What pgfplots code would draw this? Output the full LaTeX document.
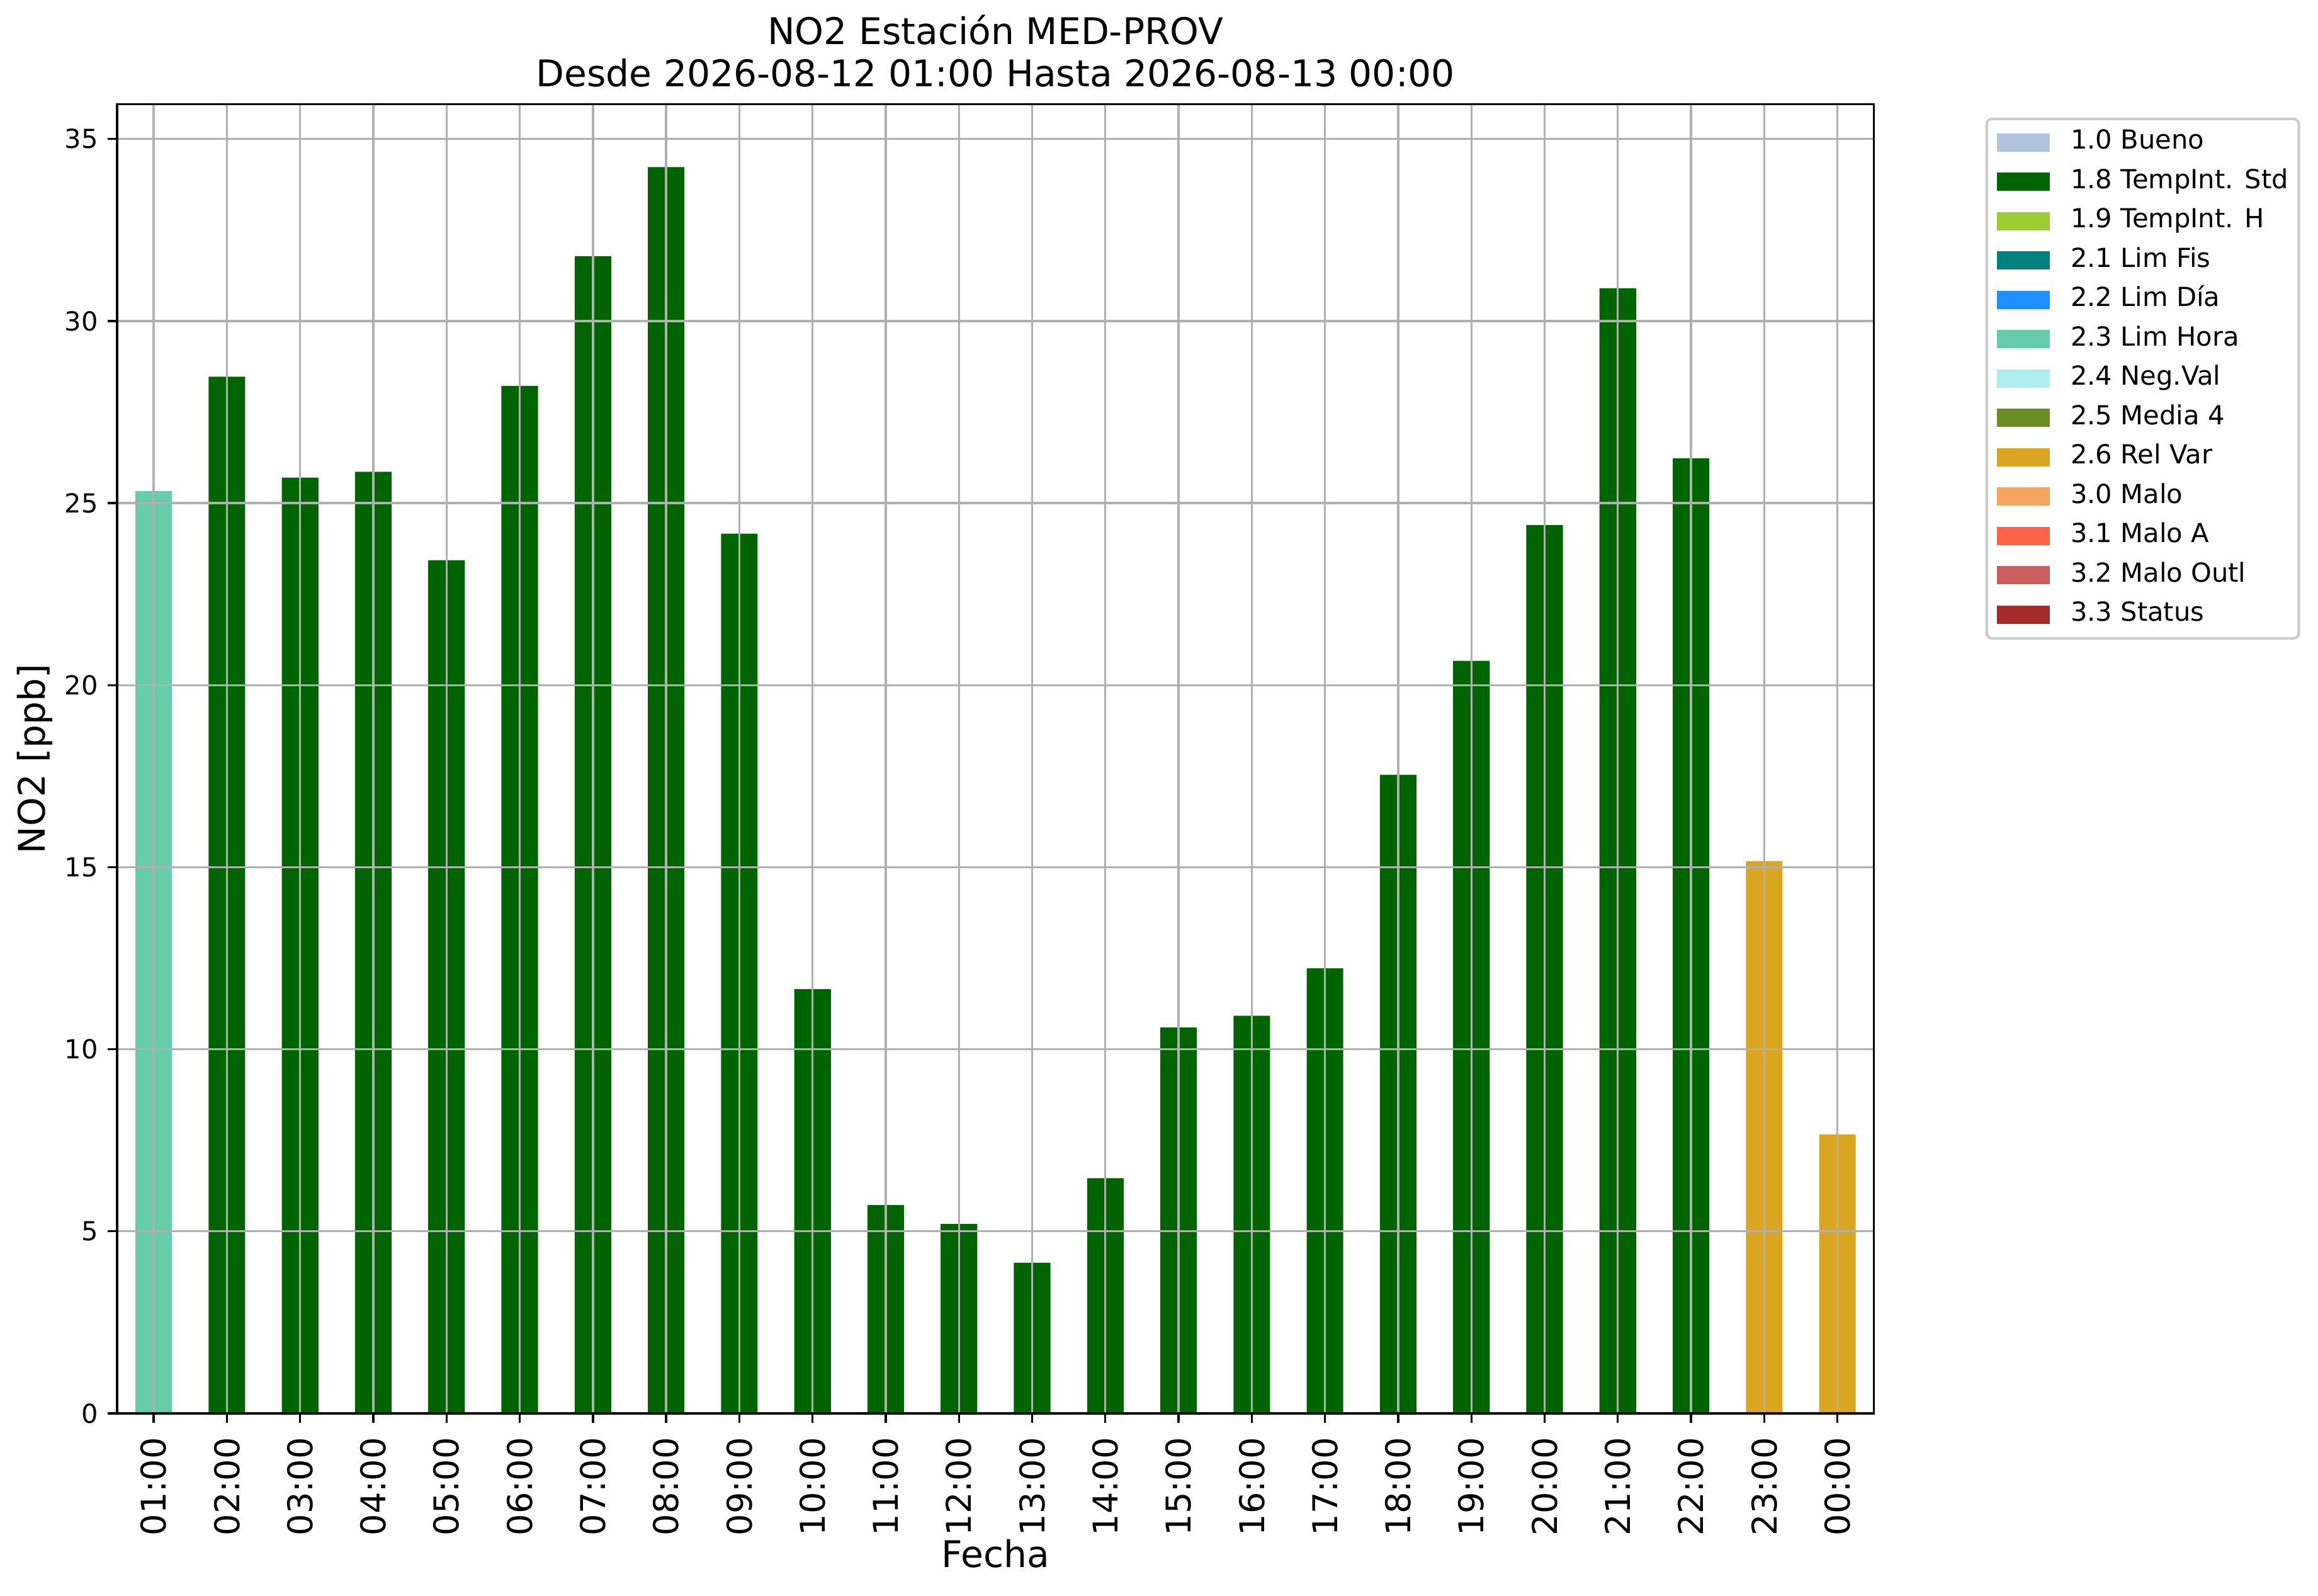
\documentclass[border=0pt]{standalone}
\usepackage{pgfplots}
\pgfplotsset{compat=1.18}
\usepackage{fontspec}
\setmainfont{DejaVu Sans}
\definecolor{cBueno}{HTML}{B0C4DE}
\definecolor{cStd}{HTML}{006400}
\definecolor{cH}{HTML}{9ACD32}
\definecolor{cFis}{HTML}{008080}
\definecolor{cDia}{HTML}{1E90FF}
\definecolor{cHora}{HTML}{66CDAA}
\definecolor{cNeg}{HTML}{AFEEEE}
\definecolor{cMedia}{HTML}{6B8E23}
\definecolor{cRel}{HTML}{DAA520}
\definecolor{cMalo}{HTML}{F4A460}
\definecolor{cMaloA}{HTML}{FF6347}
\definecolor{cOutl}{HTML}{CD5C5C}
\definecolor{cStatus}{HTML}{A52A2A}
\definecolor{gridgray}{HTML}{B0B0B0}
\begin{document}
\begin{tikzpicture}
\useasboundingbox (0,0) rectangle (883.7pt,608.2pt);
\begin{axis}[
  at={(44.64pt,69.4pt)}, anchor=south west,
  scale only axis, width=669.8pt, height=499pt,
  xmin=-0.5, xmax=23.5, ymin=0, ymax=35.95,
  xtick={0,...,23},
  xticklabels={01:00,02:00,03:00,04:00,05:00,06:00,07:00,08:00,09:00,10:00,11:00,12:00,13:00,14:00,15:00,16:00,17:00,18:00,19:00,20:00,21:00,22:00,23:00,00:00},
  ytick={0,5,...,35},
  xtick pos=left, ytick pos=left,
  tick align=outside, major tick length=3.5pt,
  every tick/.style={black, line width=0.8pt},
  axis line style={line width=0.8pt},
  grid=major, major grid style={gridgray, line width=0.8pt},
  axis on top,
  /pgf/number format/assume math mode=true,
  x tick label style={rotate=90, anchor=east, font=\fontsize{13}{15}\selectfont, inner sep=0pt, xshift=-5.5pt},
  y tick label style={font=\fontsize{10}{12}\selectfont, inner sep=0pt, xshift=-3.5pt},
  xlabel={Fecha}, xlabel style={font=\fontsize{14}{16}\selectfont, inner sep=0pt, yshift=-1.2pt},
  ylabel={NO2 [ppb]}, ylabel style={font=\fontsize{14}{16}\selectfont, inner sep=0pt, yshift=4.5pt},
  title={NO2 Estación MED-PROV\\Desde 2026-08-12 01:00 Hasta 2026-08-13 00:00},
  title style={at={(0.5,1)}, anchor=south, yshift=0.4pt, inner sep=0pt, align=center, font=\fontsize{14}{16}\selectfont},
  legend cell align=left,
  legend style={at={(1.0634,0.9899)}, anchor=north west, draw=black!20, line width=1pt, rounded corners=2pt, fill=white,
    font=\fontsize{10}{12}\selectfont, inner xsep=4pt, inner ysep=4pt, row sep=5pt,
    nodes={inner sep=0pt, text height=7.5pt, text depth=2.5pt},
    /tikz/every odd column/.style={column sep=8pt}},
  legend image code/.code={\fill[#1, draw=none, sharp corners] (0pt,-3.5pt) rectangle (20pt,3.5pt);},
]
\addplot[ybar, bar width=0.5, bar shift=0, fill=cHora, draw=none, forget plot] coordinates {(0,25.33)};
\addplot[ybar, bar width=0.5, bar shift=0, fill=cStd, draw=none, forget plot] coordinates {
(1,28.47) (2,25.70) (3,25.86) (4,23.43) (5,28.22) (6,31.78) (7,34.23) (8,24.16) (9,11.65)
(10,5.72) (11,5.20) (12,4.14) (13,6.46) (14,10.60) (15,10.92) (16,12.22) (17,17.54) (18,20.67)
(19,24.40) (20,30.90) (21,26.23)};
\addplot[ybar, bar width=0.5, bar shift=0, fill=cRel, draw=none, forget plot] coordinates {(22,15.17) (23,7.66)};
\addlegendimage{fill=cBueno}\addlegendentry{1.0 Bueno}
\addlegendimage{fill=cStd}\addlegendentry{1.8 TempInt. Std}
\addlegendimage{fill=cH}\addlegendentry{1.9 TempInt. H}
\addlegendimage{fill=cFis}\addlegendentry{2.1 Lim Fis}
\addlegendimage{fill=cDia}\addlegendentry{2.2 Lim Día}
\addlegendimage{fill=cHora}\addlegendentry{2.3 Lim Hora}
\addlegendimage{fill=cNeg}\addlegendentry{2.4 Neg.Val}
\addlegendimage{fill=cMedia}\addlegendentry{2.5 Media 4}
\addlegendimage{fill=cRel}\addlegendentry{2.6 Rel Var}
\addlegendimage{fill=cMalo}\addlegendentry{3.0 Malo}
\addlegendimage{fill=cMaloA}\addlegendentry{3.1 Malo A}
\addlegendimage{fill=cOutl}\addlegendentry{3.2 Malo Outl}
\addlegendimage{fill=cStatus}\addlegendentry{3.3 Status}
\end{axis}
\end{tikzpicture}
\end{document}
